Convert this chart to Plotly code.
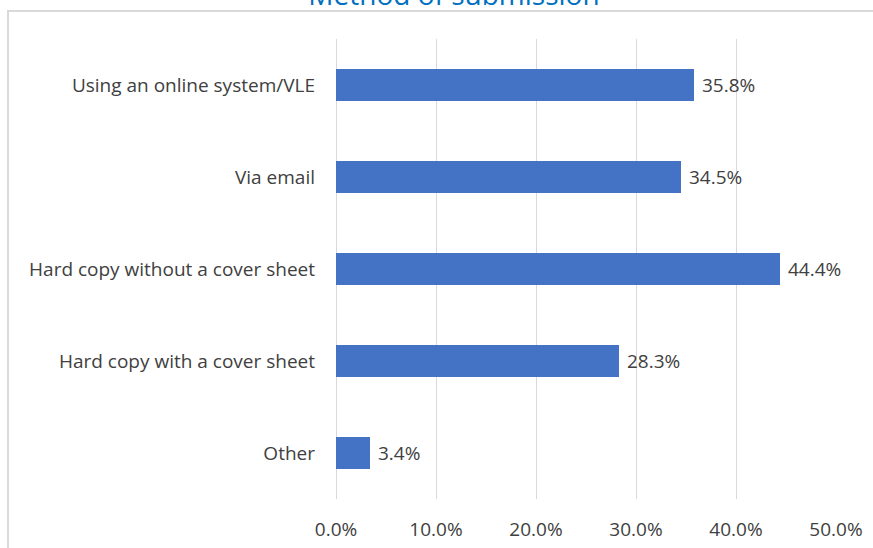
import plotly.graph_objects as go

categories = ["Using an online system/VLE", "Via email", "Hard copy without a cover sheet",
              "Hard copy with a cover sheet", "Other"]
values = [35.8, 34.5, 44.4, 28.3, 3.4]
x_ticks = [0, 10, 20, 30, 40, 50]
x_tick_labels = ["0.0%", "10.0%", "20.0%", "30.0%", "40.0%", "50.0%"]
title_text = "Method of submission"

FONT = "Open Sans"
TXT = "#404040"
FS = 19

fig = go.Figure(go.Bar(
    y=categories, x=values, orientation="h",
    marker=dict(color="#4472C4", line=dict(width=0)),
    text=[" %.1f%%" % v for v in values],
    textposition="outside", cliponaxis=False,
    textfont=dict(family=FONT, size=FS, color=TXT),
))

W, H = 873, 548
L, R, T, B = 336, 37, 39, 49
pw, ph = W - L - R, H - T - B

def px_x(x):
    return (x - L) / pw

def px_y(y):
    return 1 - (y - T) / ph

fig.update_layout(
    width=W, height=H,
    margin=dict(l=L, r=R, t=T, b=B),
    paper_bgcolor="white", plot_bgcolor="white",
    showlegend=False, bargap=0.65,
    title=dict(text=title_text, xref="container", yref="container",
               x=454 / W, y=1 - 5 / H, xanchor="center", yanchor="bottom",
               font=dict(family=FONT, size=28, color="#0070C0")),
    xaxis=dict(range=[0, 50], tickvals=x_ticks, ticktext=x_tick_labels,
               showgrid=True, gridcolor="#D9D9D9", gridwidth=1,
               zeroline=True, zerolinecolor="#D9D9D9", zerolinewidth=1,
               showline=False, ticks="", ticklabelstandoff=17, automargin=False,
               tickfont=dict(family=FONT, size=FS, color=TXT), fixedrange=True),
    yaxis=dict(autorange="reversed", showgrid=False, zeroline=False, showline=False,
               ticks="", ticklabelstandoff=20, automargin=False,
               tickfont=dict(family=FONT, size=FS, color=TXT), fixedrange=True),
    shapes=[dict(type="rect", xref="paper", yref="paper",
                 x0=px_x(8), x1=px_x(W + 50), y0=px_y(11), y1=px_y(H + 50),
                 line=dict(color="#D9D9D9", width=2), fillcolor="rgba(0,0,0,0)", layer="below")],
)

fig.write_html("out.html", config={"displayModeBar": False},
               post_script="document.body.style.margin='0px';")
